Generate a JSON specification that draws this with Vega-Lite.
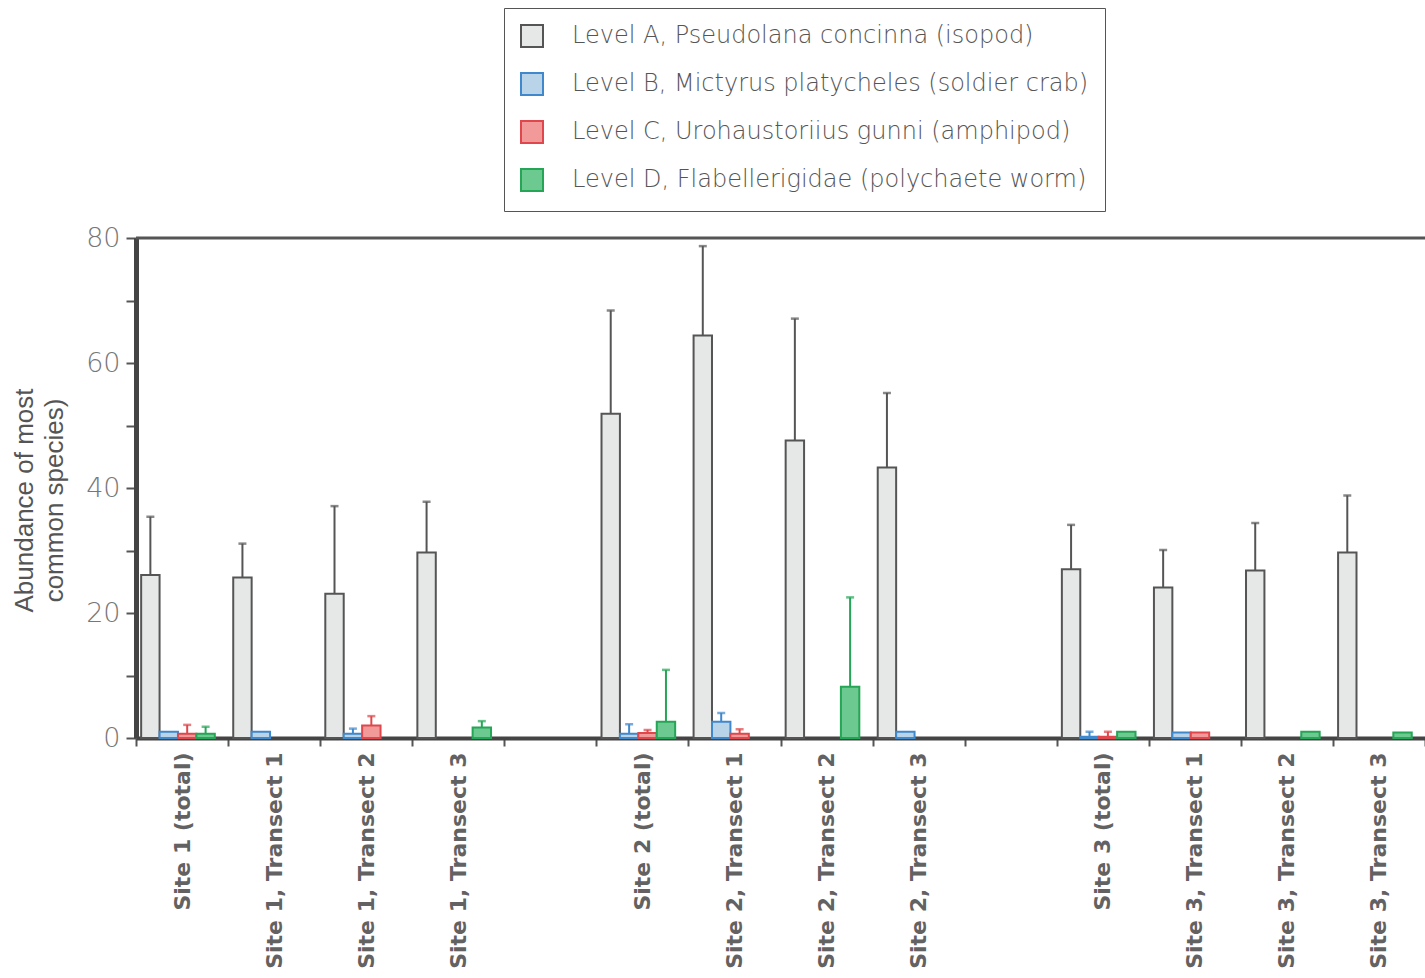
{
  "$schema": "https://vega.github.io/schema/vega-lite/v6.json",
  "width": 1289,
  "height": 500,
  "autosize": {"type": "none"},
  "padding": {"left": 136, "top": 238, "right": 0, "bottom": 240},
  "background": "white",
  "config": {"view": {"stroke": null}, "font": "Liberation Sans"},
  "data": {"values": [
    {"site": "Site 1 (total)", "level": "A", "value": 26.1, "upper": 35.4},
    {"site": "Site 1 (total)", "level": "B", "value": 1.0, "upper": null},
    {"site": "Site 1 (total)", "level": "C", "value": 0.7, "upper": 2.1},
    {"site": "Site 1 (total)", "level": "D", "value": 0.7, "upper": 1.8},
    {"site": "Site 1, Transect 1", "level": "A", "value": 25.7, "upper": 31.1},
    {"site": "Site 1, Transect 1", "level": "B", "value": 1.0, "upper": null},
    {"site": "Site 1, Transect 2", "level": "A", "value": 23.1, "upper": 37.1},
    {"site": "Site 1, Transect 2", "level": "B", "value": 0.7, "upper": 1.5},
    {"site": "Site 1, Transect 2", "level": "C", "value": 2.0, "upper": 3.5},
    {"site": "Site 1, Transect 3", "level": "A", "value": 29.7, "upper": 37.8},
    {"site": "Site 1, Transect 3", "level": "D", "value": 1.7, "upper": 2.7},
    {"site": "Site 2 (total)", "level": "A", "value": 51.9, "upper": 68.4},
    {"site": "Site 2 (total)", "level": "B", "value": 0.7, "upper": 2.2},
    {"site": "Site 2 (total)", "level": "C", "value": 0.8, "upper": 1.3},
    {"site": "Site 2 (total)", "level": "D", "value": 2.6, "upper": 10.9},
    {"site": "Site 2, Transect 1", "level": "A", "value": 64.4, "upper": 78.7},
    {"site": "Site 2, Transect 1", "level": "B", "value": 2.6, "upper": 4.0},
    {"site": "Site 2, Transect 1", "level": "C", "value": 0.7, "upper": 1.4},
    {"site": "Site 2, Transect 2", "level": "A", "value": 47.6, "upper": 67.1},
    {"site": "Site 2, Transect 2", "level": "D", "value": 8.2, "upper": 22.5},
    {"site": "Site 2, Transect 3", "level": "A", "value": 43.3, "upper": 55.2},
    {"site": "Site 2, Transect 3", "level": "B", "value": 1.0, "upper": null},
    {"site": "Site 3 (total)", "level": "A", "value": 27.0, "upper": 34.1},
    {"site": "Site 3 (total)", "level": "B", "value": 0.2, "upper": 1.0},
    {"site": "Site 3 (total)", "level": "C", "value": 0.2, "upper": 1.0},
    {"site": "Site 3 (total)", "level": "D", "value": 1.0, "upper": null},
    {"site": "Site 3, Transect 1", "level": "A", "value": 24.1, "upper": 30.1},
    {"site": "Site 3, Transect 1", "level": "B", "value": 0.9, "upper": null},
    {"site": "Site 3, Transect 1", "level": "C", "value": 0.9, "upper": null},
    {"site": "Site 3, Transect 2", "level": "A", "value": 26.8, "upper": 34.4},
    {"site": "Site 3, Transect 2", "level": "D", "value": 1.0, "upper": null},
    {"site": "Site 3, Transect 3", "level": "A", "value": 29.7, "upper": 38.8},
    {"site": "Site 3, Transect 3", "level": "D", "value": 0.9, "upper": null}
  ]},
  "encoding": {
    "x": {
      "field": "site", "type": "nominal",
      "scale": {"domain": ["Site 1 (total)", "Site 1, Transect 1", "Site 1, Transect 2", "Site 1, Transect 3", "gap1", "Site 2 (total)", "Site 2, Transect 1", "Site 2, Transect 2", "Site 2, Transect 3", "gap2", "Site 3 (total)", "Site 3, Transect 1", "Site 3, Transect 2", "Site 3, Transect 3"], "paddingInner": 0, "paddingOuter": 0},
      "axis": {
        "title": null, "labelAngle": -90, "tickBand": "extent",
        "labelExpr": "indexof(datum.label, 'gap') === 0 ? '' : datum.label",
        "labelFont": "DejaVu Sans", "labelFontWeight": "bold", "labelFontSize": 22, "labelColor": "#626262", "labelPadding": 6, "labelLimit": 300,
        "tickSize": 8, "tickWidth": 2, "tickColor": "#555", "domainWidth": 4, "domainColor": "#444"
      }
    },
    "xOffset": {"field": "level", "type": "nominal", "scale": {"domain": ["A", "B", "C", "D"], "paddingInner": 0, "paddingOuter": 0.5, "align": 0.28}},
    "y": {
      "field": "value", "type": "quantitative",
      "scale": {"domain": [0, 80], "nice": false},
      "axis": {
        "title": ["Abundance of most", "common species)"],
        "titleFont": "Liberation Sans", "titleFontSize": 26, "titleFontWeight": "normal", "titleColor": "#555", "titleLineHeight": 30, "titlePadding": 18, "titleY": 262,
        "values": [0, 10, 20, 30, 40, 50, 60, 70, 80],
        "labelExpr": "datum.value % 20 === 0 ? datum.label : ''",
        "labelFont": "DejaVu Sans", "labelFontWeight": 200, "labelFontSize": 27, "labelColor": "#777", "labelPadding": 6,
        "grid": false, "tickSize": 10, "tickWidth": 2, "tickColor": "#555", "domainWidth": 5, "domainColor": "#444"
      }
    }
  },
  "layer": [
    {
      "data": {"values": [{"v": 80}]},
      "mark": {"type": "rule", "strokeWidth": 3, "color": "#555"},
      "encoding": {"x": null, "xOffset": null, "y": {"field": "v", "type": "quantitative"}}
    },
    {
      "mark": {"type": "bar", "strokeWidth": 2},
      "encoding": {
        "fill": {
          "field": "level", "type": "nominal",
          "scale": {"domain": ["A", "B", "C", "D"], "range": ["#e6e8e8", "#b9d3e8", "#f29a9a", "#6cc98f"]},
          "legend": {
            "title": null, "orient": "none", "legendX": 368, "legendY": -230, "direction": "vertical",
            "strokeColor": "#555", "fillColor": "white", "padding": 16,
            "symbolType": "square", "symbolSize": 484, "symbolStrokeColor": "#444", "symbolStrokeWidth": 2,
            "labelFont": "DejaVu Sans", "labelFontWeight": 200, "labelFontSize": 24, "labelColor": "#555", "labelOffset": 28, "rowPadding": 18, "labelLimit": 700,
            "labelExpr": "datum.label === 'A' ? 'Level A, Pseudolana concinna (isopod)' : datum.label === 'B' ? 'Level B, Mictyrus platycheles (soldier crab)' : datum.label === 'C' ? 'Level C, Urohaustoriius gunni (amphipod)' : 'Level D, Flabellerigidae (polychaete worm)'"
          }
        },
        "stroke": {
          "field": "level", "type": "nominal",
          "scale": {"domain": ["A", "B", "C", "D"], "range": ["#555555", "#3f88cc", "#e0474c", "#25a556"]},
          "legend": null
        }
      }
    },
    {
      "transform": [{"filter": "datum.upper != null"}],
      "mark": {"type": "rule", "strokeWidth": 2},
      "encoding": {
        "y2": {"field": "upper"},
        "stroke": {"field": "level", "type": "nominal", "legend": null}
      }
    },
    {
      "transform": [{"filter": "datum.upper != null"}],
      "mark": {"type": "tick", "thickness": 2.5, "size": 8},
      "encoding": {
        "y": {"field": "upper", "type": "quantitative"},
        "color": {"field": "level", "type": "nominal", "scale": {"domain": ["A", "B", "C", "D"], "range": ["#555555", "#3f88cc", "#e0474c", "#25a556"]}, "legend": null}
      }
    }
  ]
}
